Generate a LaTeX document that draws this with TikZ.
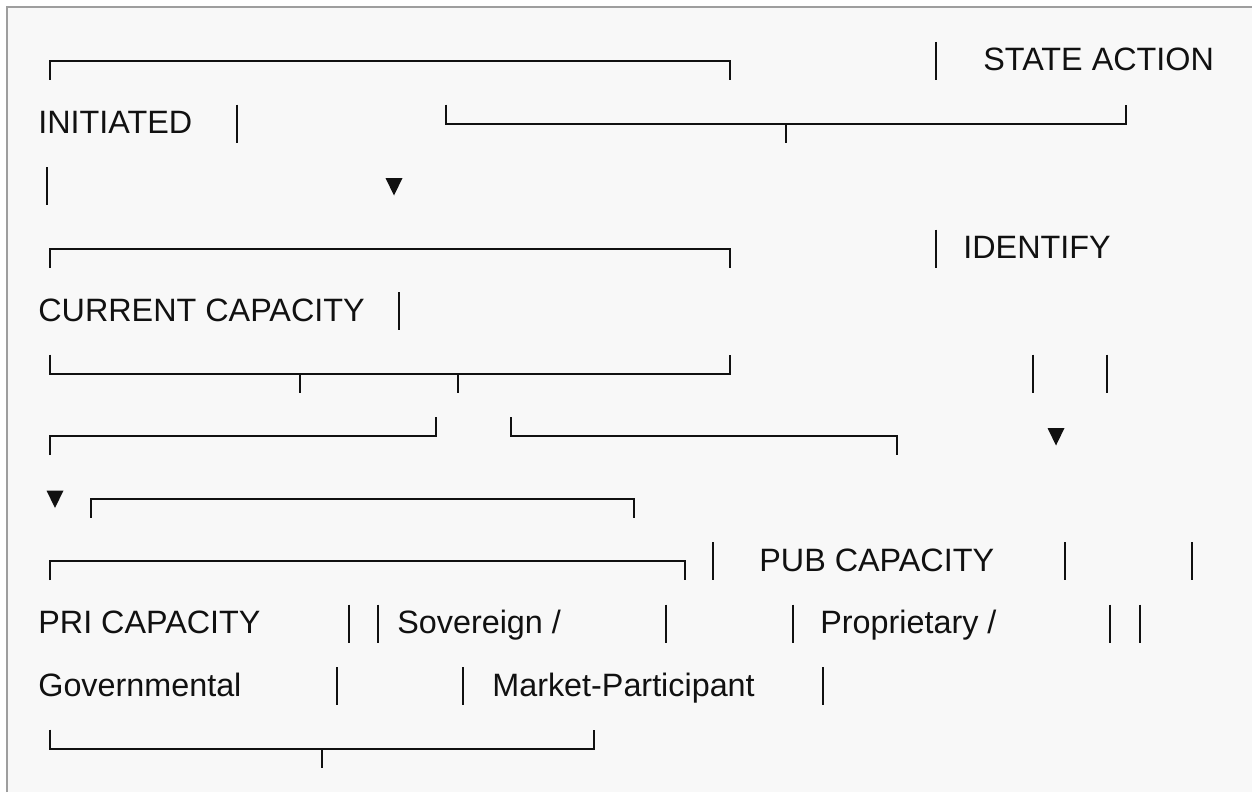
\documentclass[tikz,border=0pt]{standalone}
\usepackage{fontspec}
\setmainfont{Liberation Sans}
\usetikzlibrary{positioning}
\definecolor{paper}{HTML}{F8F8F8}
\definecolor{rim}{HTML}{9E9E9E}
\definecolor{ink}{HTML}{111111}

\begin{document}
\begin{tikzpicture}[x=0.2mm,y=-0.2mm,font=\fontsize{18.4}{21}\selectfont]
  \def\h{19}% half height of one text line, px
  \useasboundingbox (0,0) rectangle (1252,792);
  \fill[white] (0,0) rectangle (1252,792);
  \fill[paper] (7,7) rectangle (1252,792);
  \draw[rim,line width=0.4mm] (7,792) -- (7,7) -- (1252,7);
  % brackets: row / left x / right x / left hook / right hook (1 down, -1 up)
  \foreach \r/\xa/\xb/\da/\db in {
    1/50/730/1/1,
    2/446/1126/-1/-1,
    4/50/730/1/1,
    6/50/730/-1/-1,
    7/50/436/1/-1,
    7/511/897/-1/1,
    8/91/634/1/1,
    9/50/685/1/1,
    12/50/594/-1/-1}
  {
    \pgfmathsetmacro{\ym}{61+62.5*(\r-1)}
    \draw[ink,line width=0.4mm] (\xa,{\ym+(\da)*\h}) -- (\xa,\ym) -- (\xb,\ym) -- (\xb,{\ym+(\db)*\h});
  }
  % tees under the brackets
  \foreach \r/\x in {2/786, 6/300, 6/458, 12/322}
  {
    \pgfmathsetmacro{\ym}{61+62.5*(\r-1)}
    \draw[ink,line width=0.4mm] (\x,\ym) -- (\x,\ym+\h);
  }
  % loose bars
  \foreach \r/\x in {1/936, 2/237, 3/47, 4/936, 5/399, 6/1033, 6/1107,
    9/713, 9/1065, 9/1192, 10/349, 10/378, 10/666, 10/793, 10/1110, 10/1140,
    11/337, 11/463, 11/823}
  {
    \pgfmathsetmacro{\ym}{61+62.5*(\r-1)}
    \draw[ink,line width=0.35mm] (\x,\ym-\h) -- (\x,\ym+\h);
  }
  % arrow heads
  \foreach \r/\x in {3/394, 7/1056, 8/55}
  {
    \pgfmathsetmacro{\ym}{61+62.5*(\r-1)}
    \fill[ink] (\x-8.5,\ym-8) -- (\x+8.5,\ym-8) -- (\x,\ym+9.5) -- cycle;
  }
  % labels
  \foreach \r/\x/\name/\lab in {
    1/983/stateaction/{STATE ACTION},
    2/38/initiated/{INITIATED},
    4/963/identify/{IDENTIFY},
    5/38/current/{CURRENT CAPACITY},
    9/759/pubcap/{PUB CAPACITY},
    10/38/pricap/{PRI CAPACITY},
    10/397/sovereign/{Sovereign /},
    10/820/proprietary/{Proprietary /},
    11/38/governmental/{Governmental},
    11/492/market/{Market-Participant}}
  {
    \node[anchor=base west,inner sep=0pt,text=ink] (\name) at (\x,{61+62.5*(\r-1)+10}) {\lab};
  }
\end{tikzpicture}
\end{document}
